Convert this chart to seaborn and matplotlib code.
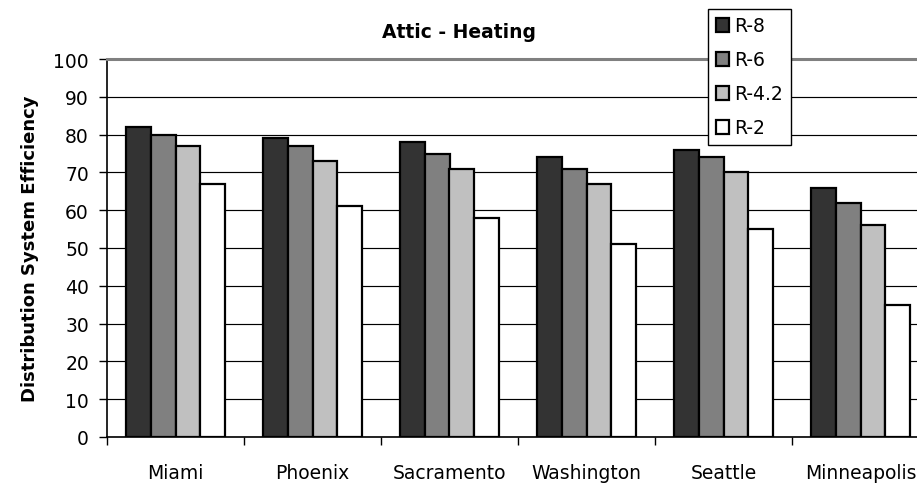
import pandas as pd
import numpy as np
import matplotlib
matplotlib.use("Agg")
import matplotlib.pyplot as plt
import seaborn as sns

# Values
cities = ['Miami', 'Phoenix', 'Sacramento', 'Washington', 'Seattle', 'Minneapolis']
series = ['R-8', 'R-6', 'R-4.2', 'R-2']
r8 = [82, 79, 78, 74, 76, 66]
r6 = [80, 77, 75, 71, 74, 62]
r42 = [77, 73, 71, 67, 70, 56]
r2 = [67, 61, 58, 51, 55, 35]
colors = {'R-8': '#333333', 'R-6': '#808080', 'R-4.2': '#c0c0c0', 'R-2': '#ffffff'}


def build_frame():
    rows = []
    for name, vals in zip(series, [r8, r6, r42, r2]):
        for city, v in zip(cities, vals):
            rows.append([city, name, v])
    return pd.DataFrame(rows, columns=['City', 'Insulation', 'Efficiency'])


def main():
    df = build_frame()
    sns.set_style('white')
    plt.rcParams['font.family'] = ['DejaVu Sans']
    # plain black text like the original
    plt.rcParams['text.color'] = 'black'
    plt.rcParams['axes.labelcolor'] = 'black'
    plt.rcParams['xtick.color'] = 'black'
    plt.rcParams['ytick.color'] = 'black'

    fig = plt.figure(figsize=(9.17, 4.85), dpi=100)
    ax = fig.add_axes([107 / 917, 47 / 485, 822 / 917, 378 / 485])

    sns.barplot(data=df, x='City', y='Efficiency', hue='Insulation',
                order=cities, hue_order=series, palette=colors,
                width=0.72, edgecolor='black', linewidth=1.6,
                saturation=1, legend=True, ax=ax)

    ax.set_ylim(0, 100)
    ax.set_xlim(-0.5, len(cities) - 0.5)
    ax.set_yticks(np.arange(0, 101, 10))
    ax.tick_params(axis='y', labelsize=13.5, length=6, width=1, color='black',
                   labelcolor='black', direction='out', left=True, pad=7)

    # labels at category centres, tick marks at category boundaries
    ax.set_xticks(np.arange(len(cities)), minor=True)
    ax.set_xticklabels(cities, minor=True)
    ax.set_xticks(np.arange(-0.5, len(cities), 1.0))
    ax.set_xticklabels([])
    ax.tick_params(axis='x', which='major', length=6, width=1, color='black',
                   direction='out', bottom=True)
    ax.tick_params(axis='x', which='minor', length=0, labelsize=13.5, pad=19,
                   labelcolor='black')

    ax.set_axisbelow(True)
    ax.yaxis.grid(True, color='black', linewidth=0.85)
    ax.xaxis.grid(False)

    ax.spines['left'].set_color('black')
    ax.spines['left'].set_linewidth(1.2)
    ax.spines['bottom'].set_color('black')
    ax.spines['bottom'].set_linewidth(1.2)
    ax.spines['top'].set_color('#808080')
    ax.spines['top'].set_linewidth(2.2)
    ax.spines['right'].set_visible(False)

    ax.set_xlabel('')
    ax.set_ylabel('Distribution System Efficiency', fontsize=13, fontweight='bold',
                  labelpad=10, color='black')

    fig.text(0.5, 1 - 32 / 485, 'Attic - Heating', ha='center', va='center',
             fontsize=13.5, fontweight='bold', color='black')

    handles, labels = ax.get_legend_handles_labels()
    ax.get_legend().remove()
    leg = fig.legend(handles, labels, loc='upper left',
                     bbox_to_anchor=(708 / 917, 1 - 10 / 485),
                     fontsize=13.5, frameon=True, fancybox=False, shadow=False,
                     handlelength=0.7, handleheight=0.7, handletextpad=0.3,
                     labelspacing=0.8, borderpad=0.4, borderaxespad=0)
    leg.get_frame().set_edgecolor('black')
    leg.get_frame().set_linewidth(1)
    leg.get_frame().set_facecolor('white')
    leg.get_frame().set_alpha(1)
    for t in leg.get_texts():
        t.set_color('black')

    fig.savefig('out.png', dpi=100)


if __name__ == "__main__":
    main()
